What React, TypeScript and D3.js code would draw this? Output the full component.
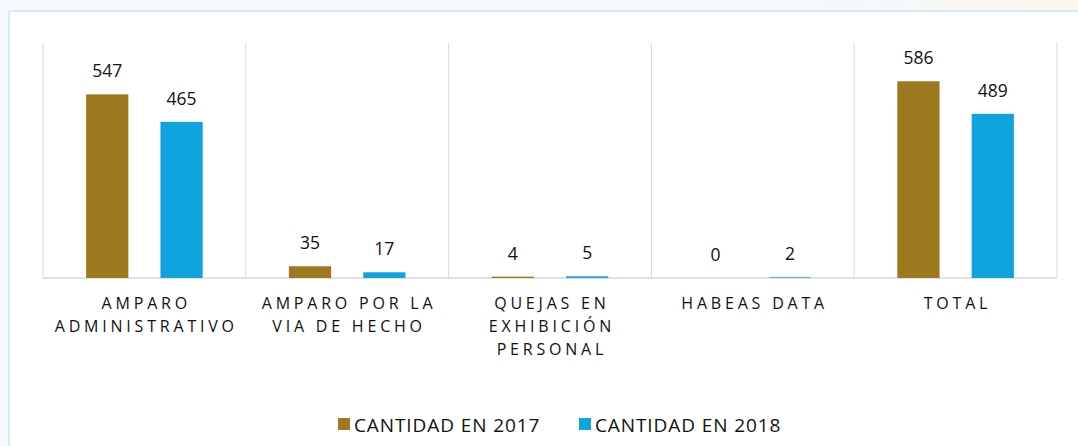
import React from 'react'
import * as d3 from 'd3'

const categories = [
  ['AMPARO', 'ADMINISTRATIVO'],
  ['AMPARO POR LA', 'VIA DE HECHO'],
  ['QUEJAS EN', 'EXHIBICIÓN', 'PERSONAL'],
  ['HABEAS DATA'],
  ['TOTAL'],
]
const series2017 = [547, 35, 4, 0, 586]
const series2018 = [465, 17, 5, 2, 489]
const seriesNames = ['CANTIDAD EN 2017', 'CANTIDAD EN 2018']
const colors = ['#9e781e', '#0fa4dd']

const width = 1078
const height = 446
const margin = { top: 43, right: 21, bottom: 168, left: 43 }

const App: React.FC = () => {
  const keys = categories.map((_, i) => String(i))
  const x = d3
    .scaleBand()
    .domain(keys)
    .range([margin.left, width - margin.right])
  const inner = d3
    .scaleBand()
    .domain(['0', '1'])
    .range([0, x.bandwidth()])
    .paddingInner(0.432)
    .paddingOuter(0.58)
  const y = d3
    .scaleLinear()
    .domain([0, 700])
    .range([height - margin.bottom, margin.top])

  const series = [series2017, series2018]
  const base = y(0)

  return (
    <svg
      width={width}
      height={height}
      style={{ position: 'absolute', left: 0, top: 0, display: 'block' }}
    >
      <defs>
        <linearGradient id="tr" x1="0" x2="1" y1="0" y2="0">
          <stop offset="0" stopColor="#f4f9fd" />
          <stop offset="1" stopColor="#fbf6ee" />
        </linearGradient>
      </defs>
      <rect x={0} y={0} width={width} height={height} fill="#f3f9fe" />
      <rect x={800} y={0} width={278} height={11} fill="url(#tr)" />
      <rect x={9} y={11} width={width - 9} height={height - 11} fill="#ffffff" />
      <line x1={9} x2={width} y1={11} y2={11} stroke="#d6ecfb" strokeWidth={2} />
      <line x1={9} x2={9} y1={11} y2={height} stroke="#d6ecfb" strokeWidth={2} />

      {/* vertical separators */}
      {[...keys.map((k) => x(k)!), width - margin.right].map((gx, i) => (
        <line
          key={i}
          x1={gx}
          x2={gx}
          y1={margin.top}
          y2={base}
          stroke="#d9d9d9"
          strokeWidth={1}
        />
      ))}
      <line
        x1={margin.left}
        x2={width - margin.right}
        y1={base}
        y2={base}
        stroke="#d9d9d9"
        strokeWidth={1.5}
      />

      {series.map((vals, s) =>
        vals.map((v, i) => {
          const bx = x(String(i))! + inner(String(s))!
          const by = y(v)
          return (
            <g key={`${s}-${i}`}>
              <rect
                x={bx}
                y={by}
                width={inner.bandwidth()}
                height={base - by}
                fill={colors[s]}
              />
              <text
                x={bx + inner.bandwidth() / 2}
                y={by - 17}
                textAnchor="middle"
                fontFamily="Open Sans"
                fontSize={17.5}
                fill="#111"
              >
                {v}
              </text>
            </g>
          )
        })
      )}

      {categories.map((lines, i) => (
        <text
          key={i}
          y={309}
          textAnchor="middle"
          fontFamily="Open Sans"
          fontSize={16}
          letterSpacing={3.8}
          fill="#111"
        >
          {lines.map((l, j) => (
            <tspan key={j} x={x(String(i))! + x.bandwidth() / 2 + 1.9} dy={j === 0 ? 0 : 23}>
              {l}
            </tspan>
          ))}
        </text>
      ))}

      {seriesNames.map((name, s) => {
        const lx = s === 0 ? 338 : 579
        return (
          <g key={name}>
            <rect x={lx} y={418} width={12} height={12} fill={colors[s]} />
            <text
              x={lx + 16}
              y={432}
              fontFamily="Open Sans"
              fontSize={19}
              letterSpacing={0.9}
              fill="#111"
            >
              {name}
            </text>
          </g>
        )
      })}
    </svg>
  )
}

export default App
